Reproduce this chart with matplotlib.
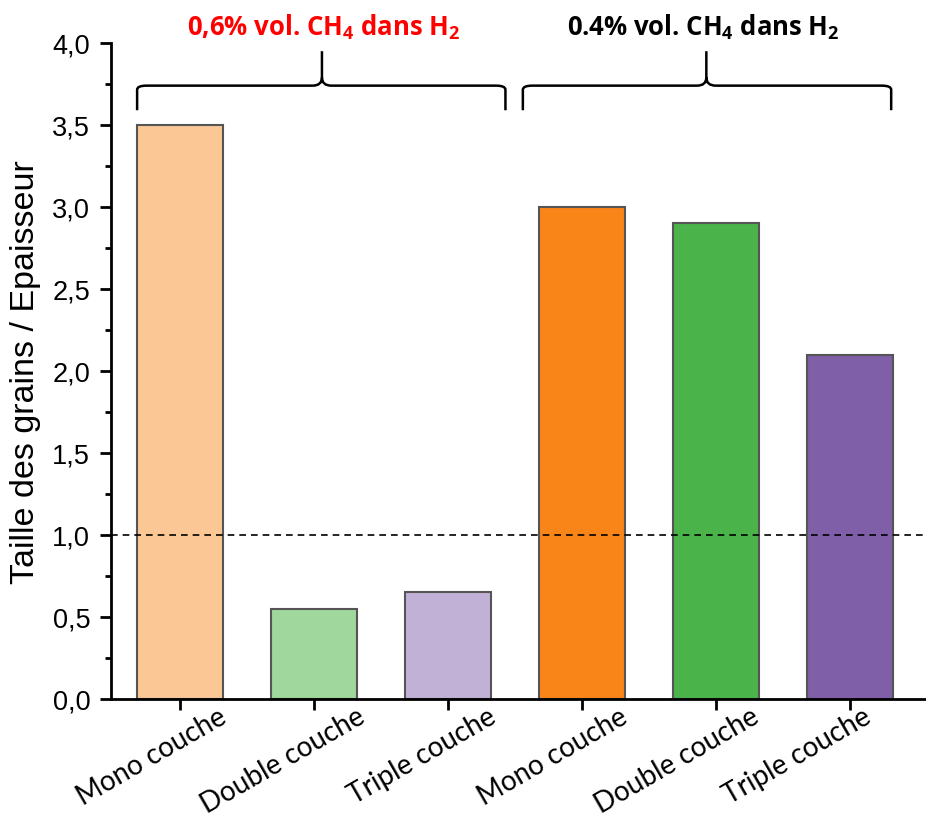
import matplotlib
matplotlib.use("Agg")
import matplotlib.pyplot as plt
from matplotlib.path import Path
from matplotlib.patches import PathPatch
import matplotlib.transforms as mtransforms
from matplotlib.ticker import MultipleLocator, FuncFormatter

categories = ["Mono couche", "Double couche", "Triple couche",
              "Mono couche", "Double couche", "Triple couche"]
values = [3.5, 0.55, 0.65, 3.0, 2.9, 2.1]
colors = ["#FBC795", "#9FD79C", "#C2B1D6", "#F98519", "#4AB34A", "#7F5FA8"]
group_labels = [r"0,6% vol. CH$_\mathregular{4}$ dans H$_\mathregular{2}$",
                r"0.4% vol. CH$_\mathregular{4}$ dans H$_\mathregular{2}$"]
group_colors = ["#FF0000", "#000000"]
ref_line = 1.0

fig = plt.figure(figsize=(9.26, 8.2), dpi=100)
ax = fig.add_axes([111/926, 1-700/820, 1-111/926, (700-44)/820])

x = list(range(len(values)))
ax.bar(x, values, width=0.64, color=colors, edgecolor="#555555", linewidth=1.5, zorder=2)
ax.axhline(ref_line, color="black", linestyle=(0, (4, 3)), linewidth=1.2, zorder=3)

ax.set_xlim(-0.515, 5.57)
ax.set_ylim(0, 4.0)
ax.spines["top"].set_visible(False)
ax.spines["right"].set_visible(False)
for s in ("left", "bottom"):
    ax.spines[s].set_linewidth(2)

ax.yaxis.set_major_locator(MultipleLocator(0.5))
ax.yaxis.set_minor_locator(MultipleLocator(0.25))
ax.yaxis.set_major_formatter(FuncFormatter(lambda v, p: f"{v:.1f}".replace(".", ",")))
ax.tick_params(axis="y", which="major", direction="out", length=8, width=2,
               labelsize=19.5, pad=7)
ax.tick_params(axis="y", which="minor", direction="out", length=4, width=2)
for lab in ax.get_yticklabels():
    lab.set_fontfamily("Liberation Sans")

ax.set_xticks(x)
ax.set_xticklabels(categories, rotation=30, ha="right", va="top", rotation_mode="anchor",
                   fontsize=20, fontfamily="Lato")
ax.tick_params(axis="x", direction="out", length=8, width=2, pad=4)
offsets = [38, 42, 40, 37, 35, 13]
for lab, dx in zip(ax.get_xticklabels(), offsets):
    lab.set_transform(lab.get_transform() +
                      mtransforms.ScaledTranslation(dx/100, 13/100, fig.dpi_scale_trans))

ax.set_ylabel("Taille des grains / Epaisseur", fontsize=24.5, fontfamily="Liberation Sans",
              labelpad=8)

trans = ax.transData

def brace(x0, x1, xm, y_end, y_bar, y_tip, r=0.07, ry=0.1):
    verts = [
        (x0, y_end), (x0, y_bar - ry*0.25), (x0, y_bar), (x0 + r, y_bar),
        (xm - r, y_bar), (xm, y_bar), (xm, y_bar + ry*0.5),
        (xm, y_tip),
        (xm, y_bar + ry*0.5), (xm, y_bar), (xm + r, y_bar),
        (x1 - r, y_bar), (x1, y_bar), (x1, y_bar - ry*0.25), (x1, y_end),
    ]
    codes = [Path.MOVETO, Path.LINETO, Path.CURVE3, Path.CURVE3,
             Path.LINETO, Path.CURVE3, Path.CURVE3,
             Path.LINETO,
             Path.MOVETO, Path.CURVE3, Path.CURVE3,
             Path.LINETO, Path.CURVE3, Path.CURVE3, Path.LINETO]
    p = PathPatch(Path(verts, codes), fill=False, edgecolor="black", linewidth=1.8,
                  transform=trans, clip_on=False)
    ax.add_patch(p)

brace(-0.32, 2.43, 1.06, 3.59, 3.74, 3.95)
brace(2.56, 5.31, 3.93, 3.59, 3.74, 3.95)

ax.text(1.07, 4.10, group_labels[0], color=group_colors[0], fontsize=18.5,
        fontweight="bold", fontfamily="Open Sans", ha="center", va="center", clip_on=False)
ax.text(3.91, 4.10, group_labels[1], color=group_colors[1], fontsize=18.5,
        fontweight="bold", fontfamily="Open Sans", ha="center", va="center", clip_on=False)

fig.savefig("out.png", dpi=100)
